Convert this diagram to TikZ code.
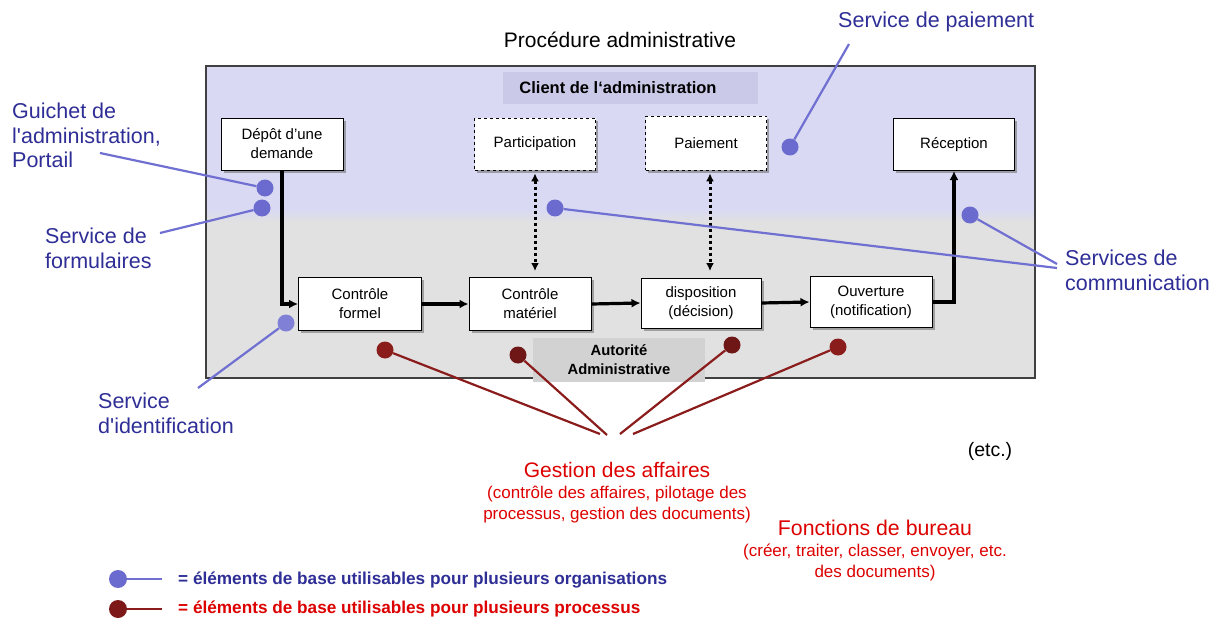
\documentclass[tikz,border=0pt]{standalone}
\usepackage{fontspec}
\setmainfont{Liberation Sans}
\usetikzlibrary{arrows.meta,shadows}
\definecolor{bandtop}{HTML}{D9D9F3}
\definecolor{bandlow}{HTML}{E1E1E1}
\definecolor{clienttag}{HTML}{CACAE8}
\definecolor{autotag}{HTML}{D2D2D2}
\definecolor{dotblue}{HTML}{6A6ACF}
\definecolor{lineblue}{HTML}{7070D2}
\definecolor{txtblue}{HTML}{2E2E96}
\definecolor{dotred}{HTML}{8B1C1C}
\definecolor{txtred}{HTML}{DD0000}
\tikzset{
  fs/.style 2 args={font=\fontsize{#1}{#2}\selectfont},
  stepbox/.style={draw=black, line width=1pt, fill=white, align=center, fs={15}{19},
    drop shadow={shadow xshift=2.5pt, shadow yshift=-2.5pt, fill=black!55, opacity=0.6}},
  optbox/.style={stepbox, dashed, line width=0.8pt},
  bdot/.style={circle, fill=dotblue, inner sep=0pt, minimum size=17pt},
  rdot/.style={circle, fill=dotred, inner sep=0pt, minimum size=17pt},
  bline/.style={draw=lineblue, line width=2.2pt},
  rline/.style={draw=dotred, line width=2.2pt},
  flow/.style={draw=black, line width=3.2pt, -{Latex[length=9pt,width=9pt]}},
  dotflow/.style={draw=black, line width=3pt, dash pattern=on 3pt off 3pt, {Latex[length=8pt,width=8pt]}-{Latex[length=8pt,width=8pt]}},
  bluelabel/.style={text=txtblue, fs={21.5}{24.5}, align=left, inner sep=0pt},
  redlabel/.style={text=txtred, align=center, inner sep=0pt},
}
\begin{document}
\begin{tikzpicture}[x=1pt,y=-1pt]
\useasboundingbox (0,0) rectangle (1211,618);

% frame of the procedure: client band above, authority band below
\fill[bandtop] (206,66) rectangle (1035,212);
\shade[top color=bandtop, bottom color=bandlow] (206,210) rectangle (1035,222);
\fill[bandlow] (206,222) rectangle (1035,378);
\draw[black!75, line width=1.2pt] (206,66) rectangle (1035,378);

\node[fs={21}{21}] (title) at (620,40) {Procédure administrative};

\fill[clienttag] (503,72) rectangle (758,104);
\node[font=\bfseries\fontsize{16.5}{16.5}\selectfont] (client) at (618,88) {Client de l‘administration};

\fill[autotag] (533,338) rectangle (705,382);
\node[font=\bfseries\fontsize{14.8}{19}\selectfont, align=center] (autorite) at (619,360) {Autorité\\Administrative};

% steps
\node[stepbox, minimum width=122pt, minimum height=52pt] (depot) at (282,144) {Dépôt d’une\\demande};
\node[optbox, minimum width=121pt, minimum height=52pt] (particip) at (535,144) {Participation};
\node[optbox, minimum width=121pt, minimum height=54pt] (paiement) at (706,143) {Paiement};
\node[stepbox, minimum width=121pt, minimum height=52pt, anchor=north, inner ysep=10pt] (reception) at (954,118) {Réception};
\node[stepbox, minimum width=123pt, minimum height=53pt] (formel) at (360,304) {Contrôle\\formel};
\node[stepbox, minimum width=122pt, minimum height=53pt] (materiel) at (530,304) {Contrôle\\matériel};
\node[stepbox, minimum width=120pt, minimum height=50pt] (dispo) at (701,303) {disposition\\(décision)};
\node[stepbox, minimum width=122pt, minimum height=51pt] (ouvert) at (871,302) {Ouverture\\(notification)};

% flow of the procedure
\draw[flow] (depot.south) |- (formel.west);
\draw[flow] (formel.east) -- (materiel.west);
\draw[flow] (materiel.east) -- (dispo.west);
\draw[flow] (dispo.east) -- (ouvert.west);
\draw[flow] (ouvert.east) -| (reception.south);
\coordinate (pin) at (535,271);
\coordinate (payin) at (710,271);
\draw[dotflow] ([yshift=-3pt]particip.south) -- (pin);
\draw[dotflow] ([xshift=4pt,yshift=-3pt]paiement.south) -- (payin);

% shared services (blue)
\node[bluelabel, anchor=north west] (guichet) at (12,103) {Guichet de\\l\textquotesingle administration,\\Portail};
\node[bluelabel, anchor=north west] (formul) at (45,228) {Service de\\formulaires};
\node[bluelabel, anchor=north west] (ident) at (98,393) {Service\\d\textquotesingle identification};
\node[bluelabel, anchor=west] (paysvc) at (838,22) {Service de paiement};
\node[bluelabel, anchor=north west] (comm) at (1065,250) {Services de\\communication};

\node[bdot] (dguichet) at (265,188) {};
\node[bdot] (dformul) at (262,208) {};
\node[bdot, fill=dotblue!85] (dident) at (286,323) {};
\node[bdot] (dpay) at (790,147) {};
\node[bdot] (dcomm1) at (555,208) {};
\node[bdot] (dcomm2) at (970,215) {};

\coordinate (eguichet) at (100,153);
\coordinate (eformul) at (160,233);
\coordinate (eident) at (198,388);
\coordinate (epay) at (849,44);
\coordinate (ecomm1) at (1057,268);
\coordinate (ecomm2) at (1057,264);

\draw[bline] (eguichet) -- (dguichet);
\draw[bline] (eformul) -- (dformul);
\draw[bline] (eident) -- (dident);
\draw[bline] (epay) -- (dpay);
\draw[bline] (ecomm1) -- (dcomm1);
\draw[bline] (ecomm2) -- (dcomm2);

% shared process functions (red)
\node[rdot] (r1) at (385,350) {};
\node[rdot, fill=dotred!80!black] (r2) at (518,355) {};
\node[rdot, fill=dotred!80!black] (r3) at (732,345) {};
\node[rdot] (r4) at (838,347) {};
\coordinate (g1) at (600,434);
\coordinate (g2) at (607,435);
\coordinate (g3) at (620,434);
\coordinate (g4) at (633,434);
\draw[rline] (r1) -- (g1);
\draw[rline] (r2) -- (g2);
\draw[rline] (r3) -- (g3);
\draw[rline] (r4) -- (g4);

\node[fs={19.5}{19.5}] (etc) at (990,451) {(etc.)};

\node[redlabel, fs={21}{21}] (gestion) at (617,470) {Gestion des affaires};
\node[redlabel, fs={17}{21}] (gestdet) at (617,505) {(contrôle des affaires, pilotage des\\processus, gestion des documents)};
\node[redlabel, fs={21.3}{21}] (bureau) at (875,528) {Fonctions de bureau};
\node[redlabel, fs={17}{21}] (bureaudet) at (875,562) {(créer, traiter, classer, envoyer, etc.\\des documents)};

% legend
\node[bdot, minimum size=18pt] (lgb) at (118,579) {};
\coordinate (lgbend) at (162,579);
\draw[bline] (lgb) -- (lgbend);
\node[anchor=west, inner sep=0pt, text=txtblue, font=\bfseries\fontsize{17.2}{17}\selectfont] (lgbtxt) at (178,580) {= éléments de base utilisables pour plusieurs organisations};
\node[rdot, minimum size=18pt, fill=dotred!90!black] (lgr) at (118,609) {};
\coordinate (lgrend) at (162,609);
\draw[rline] (lgr) -- (lgrend);
\node[anchor=west, inner sep=0pt, text=txtred, font=\bfseries\fontsize{17.2}{17}\selectfont] (lgrtxt) at (178,609) {= éléments de base utilisables pour plusieurs processus};
\end{tikzpicture}
\end{document}
